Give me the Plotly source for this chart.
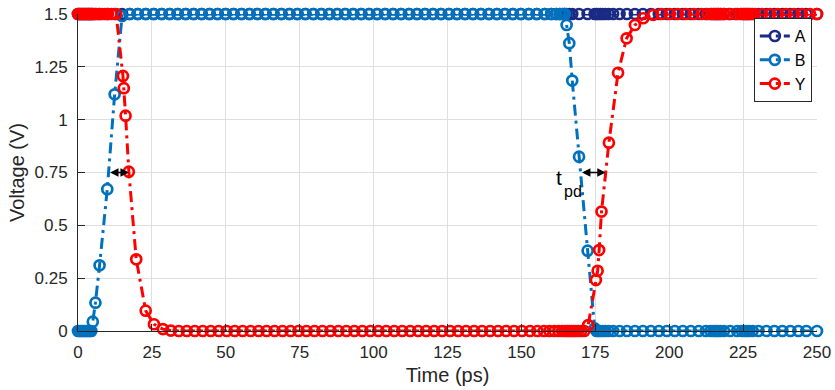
import plotly.graph_objects as go

# Transient simulation of a two-input gate: inputs A, B and output Y.
# Simulator time points (ps) and node voltages (V).

# Input A is held high; it shares the simulator grid with input B.
t_a = [
    0.0, 0.5, 1.0, 1.5, 2.0, 2.5, 3.0, 3.5, 4.0, 4.5,
    5.0, 5.9, 7.3, 9.9, 12.4, 14.9,
    17.5, 20.2, 22.9, 25.6, 28.3, 31.0, 33.7, 36.4, 39.1, 41.8,
    44.5, 47.2, 49.9, 52.6, 55.3, 58.0, 60.7, 63.4, 66.1, 68.8,
    71.5, 74.2, 76.9, 79.6, 82.3, 85.0, 87.7, 90.4, 93.1, 95.8,
    98.5, 101.2, 103.9, 106.6, 109.3, 112.0, 114.7, 117.4, 120.1, 122.8,
    125.5, 128.2, 130.9, 133.6, 136.3, 139.0, 141.7, 144.4, 147.1, 149.8,
    152.5, 155.2, 157.9, 160.1, 161.8, 163.0, 164.0, 164.7,
    165.3, 166.2, 167.2, 169.5, 172.4, 174.8,
    175.4, 176.0, 176.7, 177.5, 178.4, 179.5, 181.0, 183.2, 185.7, 188.4,
    191.1, 193.8, 196.5, 199.2, 201.9, 204.6, 207.3, 210.0, 212.4, 214.0,
    215.0, 215.8, 216.5, 217.3, 218.5, 220.6, 223.0, 224.6, 225.5, 226.3,
    227.1, 228.2, 230.2, 232.9, 235.6, 238.3, 241.0, 243.7, 246.4, 250.0,
]
v_a = [
    1.5, 1.5, 1.5, 1.5, 1.5, 1.5, 1.5, 1.5, 1.5, 1.5,
    1.5, 1.5, 1.5, 1.5, 1.5, 1.5,
    1.5, 1.5, 1.5, 1.5, 1.5, 1.5, 1.5, 1.5, 1.5, 1.5,
    1.5, 1.5, 1.5, 1.5, 1.5, 1.5, 1.5, 1.5, 1.5, 1.5,
    1.5, 1.5, 1.5, 1.5, 1.5, 1.5, 1.5, 1.5, 1.5, 1.5,
    1.5, 1.5, 1.5, 1.5, 1.5, 1.5, 1.5, 1.5, 1.5, 1.5,
    1.5, 1.5, 1.5, 1.5, 1.5, 1.5, 1.5, 1.5, 1.5, 1.5,
    1.5, 1.5, 1.5, 1.5, 1.5, 1.5, 1.5, 1.5,
    1.5, 1.5, 1.5, 1.5, 1.5, 1.5,
    1.5, 1.5, 1.5, 1.5, 1.5, 1.5, 1.5, 1.5, 1.5, 1.5,
    1.5, 1.5, 1.5, 1.5, 1.5, 1.5, 1.5, 1.5, 1.5, 1.5,
    1.5, 1.5, 1.5, 1.5, 1.5, 1.5, 1.5, 1.5, 1.5, 1.5,
    1.5, 1.5, 1.5, 1.5, 1.5, 1.5, 1.5, 1.5, 1.5, 1.5,
]

# Input B: rising edge near 10 ps, falling edge near 170 ps.
t_b = [
    0.0, 0.5, 1.0, 1.5, 2.0, 2.5, 3.0, 3.5, 4.0, 4.5,
    5.0, 5.9, 7.3, 9.9, 12.4, 14.9,
    17.5, 20.2, 22.9, 25.6, 28.3, 31.0, 33.7, 36.4, 39.1, 41.8,
    44.5, 47.2, 49.9, 52.6, 55.3, 58.0, 60.7, 63.4, 66.1, 68.8,
    71.5, 74.2, 76.9, 79.6, 82.3, 85.0, 87.7, 90.4, 93.1, 95.8,
    98.5, 101.2, 103.9, 106.6, 109.3, 112.0, 114.7, 117.4, 120.1, 122.8,
    125.5, 128.2, 130.9, 133.6, 136.3, 139.0, 141.7, 144.4, 147.1, 149.8,
    152.5, 155.2, 157.9, 160.1, 161.8, 163.0, 164.0, 164.7,
    165.3, 166.2, 167.2, 169.5, 172.4, 174.8,
    175.4, 176.0, 176.7, 177.5, 178.4, 179.5, 181.0, 183.2, 185.7, 188.4,
    191.1, 193.8, 196.5, 199.2, 201.9, 204.6, 207.3, 210.0, 212.4, 214.0,
    215.0, 215.8, 216.5, 217.3, 218.5, 220.6, 223.0, 224.6, 225.5, 226.3,
    227.1, 228.2, 230.2, 232.9, 235.6, 238.3, 241.0, 243.7, 246.4, 250.0,
]
v_b = [
    0.0, 0.0, 0.0, 0.0, 0.0, 0.0, 0.0, 0.0, 0.0, 0.0,
    0.044, 0.134, 0.311, 0.671, 1.12, 1.49,
    1.5, 1.5, 1.5, 1.5, 1.5, 1.5, 1.5, 1.5, 1.5, 1.5,
    1.5, 1.5, 1.5, 1.5, 1.5, 1.5, 1.5, 1.5, 1.5, 1.5,
    1.5, 1.5, 1.5, 1.5, 1.5, 1.5, 1.5, 1.5, 1.5, 1.5,
    1.5, 1.5, 1.5, 1.5, 1.5, 1.5, 1.5, 1.5, 1.5, 1.5,
    1.5, 1.5, 1.5, 1.5, 1.5, 1.5, 1.5, 1.5, 1.5, 1.5,
    1.5, 1.5, 1.5, 1.5, 1.5, 1.5, 1.5, 1.5,
    1.448, 1.362, 1.185, 0.825, 0.380, 0.012,
    0.0, 0.0, 0.0, 0.0, 0.0, 0.0, 0.0, 0.0, 0.0, 0.0,
    0.0, 0.0, 0.0, 0.0, 0.0, 0.0, 0.0, 0.0, 0.0, 0.0,
    0.0, 0.0, 0.0, 0.0, 0.0, 0.0, 0.0, 0.0, 0.0, 0.0,
    0.0, 0.0, 0.0, 0.0, 0.0, 0.0, 0.0, 0.0, 0.0, 0.0,
]

# Output Y: falls after B rises, rises after B falls.
t_y = [
    0.0, 0.5, 1.0, 1.5, 2.0, 2.5, 3.0, 3.5, 4.0, 4.5,
    5.0, 5.6, 6.3, 7.1, 8.0, 9.0, 10.1, 11.3, 12.9,
    15.2, 15.5, 16.1, 17.2, 19.7, 22.9, 25.7, 28.7, 31.4,
    34.1, 36.8, 39.5, 42.2, 44.9, 47.6, 50.3, 53.0, 55.7, 58.4,
    61.1, 63.8, 66.5, 69.2, 71.9, 74.6, 77.3, 80.0, 82.7, 85.4,
    88.1, 90.8, 93.5, 96.2, 98.9, 101.6, 104.3, 107.0, 109.7, 112.4,
    115.1, 117.8, 120.5, 123.2, 125.9, 128.6, 131.3, 134.0, 136.7, 139.4,
    142.1, 144.8, 147.5, 150.2, 152.9, 155.4, 157.6, 159.5, 161.2, 162.6,
    163.8, 164.8, 165.6, 166.3, 167.0, 167.7, 168.4, 169.2, 170.2, 171.3,
    172.6, 175.2, 175.8, 176.3, 177.1, 179.6, 182.7, 185.6, 188.4, 191.2,
    194.6, 197.5, 200.2, 202.9, 205.6, 208.3, 211.0, 213.0, 214.3, 215.2,
    216.0, 216.8, 217.6, 218.6, 220.2, 222.4, 224.2, 225.2, 226.0, 226.8,
    227.7, 229.0, 231.4, 234.1, 236.8, 239.5, 242.2, 244.9, 247.6, 250.0,
]
v_y = [
    1.5, 1.5, 1.5, 1.5, 1.5, 1.5, 1.5, 1.5, 1.5, 1.5,
    1.5, 1.5, 1.5, 1.5, 1.5, 1.5, 1.5, 1.5, 1.5,
    1.207, 1.149, 1.019, 0.754, 0.339, 0.096, 0.032, 0.009, 0.002,
    0.0, 0.0, 0.0, 0.0, 0.0, 0.0, 0.0, 0.0, 0.0, 0.0,
    0.0, 0.0, 0.0, 0.0, 0.0, 0.0, 0.0, 0.0, 0.0, 0.0,
    0.0, 0.0, 0.0, 0.0, 0.0, 0.0, 0.0, 0.0, 0.0, 0.0,
    0.0, 0.0, 0.0, 0.0, 0.0, 0.0, 0.0, 0.0, 0.0, 0.0,
    0.0, 0.0, 0.0, 0.0, 0.0, 0.0, 0.0, 0.0, 0.0, 0.0,
    0.0, 0.0, 0.0, 0.0, 0.0, 0.0, 0.0, 0.0, 0.0, 0.0,
    0.028, 0.241, 0.285, 0.383, 0.565, 0.891, 1.222, 1.385, 1.448, 1.480,
    1.496, 1.5, 1.5, 1.5, 1.5, 1.5, 1.5, 1.5, 1.5, 1.5,
    1.5, 1.5, 1.5, 1.5, 1.5, 1.5, 1.5, 1.5, 1.5, 1.5,
    1.5, 1.5, 1.5, 1.5, 1.5, 1.5, 1.5, 1.5, 1.5, 1.5,
]

x_ticks = [0, 25, 50, 75, 100, 125, 150, 175, 200, 225, 250]
y_ticks = [0, 0.25, 0.5, 0.75, 1, 1.25, 1.5]
y_tick_labels = ["0", "0.25", "0.5", "0.75", "1", "1.25", "1.5"]

V_DD = 1.5
V_MID = V_DD / 2  # 50 % switching threshold used for t_pd

series = [
    ("A", t_a, v_a, "#1A2A85"),
    ("B", t_b, v_b, "#0072BD"),
    ("Y", t_y, v_y, "#FF0000"),
]


def crossing(t, v, level, lo, hi):
    """Linearly interpolated time where v passes `level` inside [lo, hi]."""
    for i in range(len(t) - 1):
        if t[i] < lo or t[i + 1] > hi:
            continue
        v0, v1 = v[i], v[i + 1]
        if v0 != v1 and (v0 - level) * (v1 - level) <= 0:
            return t[i] + (level - v0) * (t[i + 1] - t[i]) / (v1 - v0)
    return None


FONT = "Liberation Sans, Arial, Helvetica, sans-serif"
INK = "#262626"

fig = go.Figure()
for name, t, v, col in series:
    fig.add_trace(go.Scatter(
        x=t, y=v, name=name, mode="lines+markers",
        line=dict(color=col, width=3, dash="11px,5px,3px,5px"),
        marker=dict(symbol="circle-open", size=10, color=col,
                    line=dict(width=2.7, color=col)),
        cliponaxis=False,
    ))

# Propagation-delay arrows between the 50 % crossings of B and Y
edges = [(0, 50), (150, 200)]
delays = []
for lo, hi in edges:
    t_in = crossing(t_b, v_b, V_MID, lo, hi)
    t_out = crossing(t_y, v_y, V_MID, lo, hi)
    delays.append((t_in, t_out))
    fig.add_annotation(
        x=t_out, y=V_MID, ax=t_in, ay=V_MID,
        xref="x", yref="y", axref="x", ayref="y",
        text="", showarrow=True,
        arrowhead=2, startarrowhead=2, arrowside="end+start",
        arrowsize=1.3, startarrowsize=1.3, arrowwidth=1.3,
        arrowcolor="black",
    )

# t_pd label beside the second delay arrow
fig.add_annotation(
    x=delays[1][0], y=V_MID, xref="x", yref="y",
    text="t", showarrow=False,
    xanchor="right", yanchor="middle", xshift=-16, yshift=-5,
    font=dict(family=FONT, size=21, color="black"),
)
fig.add_annotation(
    x=delays[1][0], y=V_MID, xref="x", yref="y",
    text="pd", showarrow=False,
    xanchor="right", yanchor="middle", xshift=4, yshift=-19,
    font=dict(family=FONT, size=16, color="black"),
)

axis_common = dict(
    showline=True, linecolor=INK, linewidth=1, mirror=False,
    ticks="inside", ticklen=7, tickcolor=INK, tickwidth=1,
    showgrid=True, gridcolor="#DFDFDF", gridwidth=1,
    zeroline=False, automargin=False,
    tickfont=dict(family=FONT, size=17, color=INK),
    title_font=dict(family=FONT, size=20, color=INK),
)

fig.update_xaxes(
    range=[0, 250], tickvals=x_ticks,
    title_text="Time (ps)", title_standoff=6, ticklabelstandoff=6,
    **axis_common,
)
fig.update_yaxes(
    range=[0, 1.5], tickvals=y_ticks, ticktext=y_tick_labels,
    title_text="Voltage (V)", title_standoff=4, ticklabelstandoff=6,
    **axis_common,
)

fig.update_layout(
    width=835, height=390,
    margin=dict(l=78, r=18, t=14, b=59, autoexpand=False),
    paper_bgcolor="white", plot_bgcolor="white",
    font=dict(family=FONT, color=INK),
    legend=dict(
        x=0.993, y=0.987, xanchor="right", yanchor="top",
        bgcolor="white", bordercolor=INK, borderwidth=1,
        font=dict(family=FONT, size=16, color="black"),
        itemwidth=30, tracegroupgap=0,
    ),
    showlegend=True,
)

fig.write_html("out.html")
